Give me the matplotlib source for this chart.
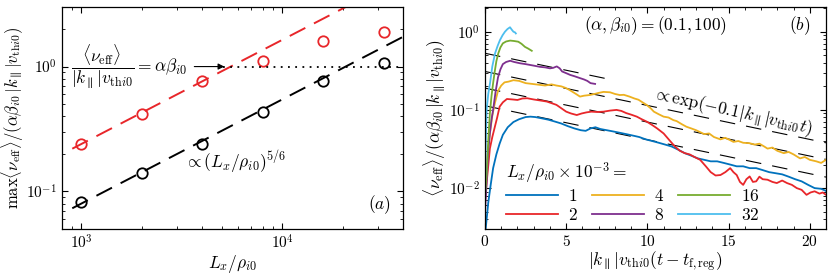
import numpy as np
import matplotlib
matplotlib.use("Agg")
import matplotlib.pyplot as plt

plt.rcParams['mathtext.fontset'] = 'cm'
plt.rcParams['font.family'] = 'serif'
plt.rcParams['font.serif'] = ['cmr10', 'DejaVu Serif']
plt.rcParams['axes.formatter.use_mathtext'] = True
plt.rcParams['axes.unicode_minus'] = False

# ---------------- panel (a) data ----------------
Lx = [1000, 2000, 4000, 8000, 16000, 32000]
max_black = [0.082, 0.140, 0.239, 0.432, 0.77, 1.06]
max_red = [0.240, 0.418, 0.76, 1.11, 1.60, 1.88]
fit_black_amp = 0.08
fit_red_amp = 0.24
fit_exponent = 5.0 / 6.0
fit_x = [900, 40000]
a_xticks = [1e3, 1e4]
a_xticklabels = [r'$10^{3}$', r'$10^{4}$']
a_yticks = [0.1, 1.0]
a_yticklabels = [r'$10^{-1}$', r'$10^{0}$']

# ---------------- panel (b) data ----------------
t_1 = [0, 0.1, 0.2, 0.35, 0.5, 0.7, 0.9, 1.1, 1.4, 1.75, 2.1, 2.5, 2.8, 3.1, 3.5, 3.9, 4.3, 4.7, 5.1, 5.5,
       5.9, 6.2, 6.5, 6.8, 7.1, 7.5, 7.9, 8.3, 8.7, 9.1, 9.5, 9.9, 10.3, 10.7, 11.1, 11.5, 11.9, 12.3, 12.7, 13.1,
       13.5, 13.9, 14.3, 14.7, 15.1, 15.5, 15.9, 16.3, 16.7, 17.1, 17.5, 17.9, 18.3, 18.7, 19.1, 19.5, 19.9, 20.3, 20.7, 21.0]
v_1 = [0.0025, 0.004, 0.0065, 0.011, 0.018, 0.027, 0.037, 0.048, 0.060, 0.070,
       0.076, 0.081, 0.082, 0.081, 0.078, 0.075, 0.071, 0.067, 0.062, 0.058,
       0.055, 0.054, 0.058, 0.060, 0.057, 0.055, 0.053, 0.051, 0.049, 0.047,
       0.045, 0.042, 0.040, 0.038, 0.036, 0.034, 0.031, 0.028, 0.026, 0.024,
       0.023, 0.022, 0.022, 0.021, 0.020, 0.019, 0.019, 0.018, 0.018, 0.017,
       0.016, 0.0155, 0.015, 0.014, 0.013, 0.0122, 0.011, 0.0100, 0.0098, 0.0092]

t_2 = [0, 0.15, 0.3, 0.45, 0.6, 0.75, 0.9, 1.1, 1.35, 1.7, 2.0, 2.3, 2.6, 3.0, 3.4, 3.8, 4.1, 4.4, 4.7, 5.0,
       5.3, 5.65, 5.95, 6.25, 6.55, 6.9, 7.3, 7.7, 8.1, 8.4, 8.7, 9.0, 9.35, 9.65, 9.95, 10.3, 10.6, 11.0, 11.4, 11.7,
       12.0, 12.3, 12.6, 12.9, 13.25, 13.6, 13.9, 14.2, 14.5, 14.8, 15.1, 15.3, 15.5, 15.7, 15.9, 16.1, 16.3, 16.5, 16.7, 16.9,
       17.1, 17.4, 17.7, 17.97, 18.3, 18.6, 18.9, 19.2, 19.5, 19.8, 20.05, 20.3, 20.6, 20.8, 21.0]
v_2 = [0.007, 0.015, 0.032, 0.045, 0.06, 0.08, 0.11, 0.125, 0.138, 0.136,
       0.134, 0.14, 0.141, 0.136, 0.132, 0.128, 0.122, 0.116, 0.105, 0.095,
       0.09, 0.086, 0.09, 0.093, 0.095, 0.094, 0.095, 0.098, 0.100, 0.097,
       0.091, 0.087, 0.082, 0.076, 0.071, 0.064, 0.058, 0.050, 0.040, 0.034,
       0.030, 0.028, 0.027, 0.025, 0.023, 0.019, 0.016, 0.0145, 0.0147, 0.016,
       0.018, 0.016, 0.0147, 0.012, 0.011, 0.013, 0.0141, 0.012, 0.0122, 0.014,
       0.013, 0.0128, 0.012, 0.0116, 0.0125, 0.0116, 0.011, 0.010, 0.0095, 0.0082,
       0.0088, 0.0091, 0.0085, 0.0088, 0.0082]

t_4 = [0, 0.15, 0.3, 0.45, 0.6, 0.8, 1.0, 1.2, 1.45, 1.75, 2.1, 2.5, 2.9, 3.3, 3.7, 4.1, 4.4, 4.7, 5.0, 5.3,
       5.6, 5.85, 6.1, 6.45, 6.75, 7.0, 7.3, 7.7, 8.0, 8.3, 8.55, 8.9, 9.2, 9.45, 9.7, 9.95, 10.2, 10.4, 10.7, 11.0,
       11.3, 11.6, 11.8, 12.1, 12.4, 12.7, 13.0, 13.25, 13.5, 13.8, 14.1, 14.5, 14.8, 15.1, 15.3, 15.6, 15.9, 16.3, 16.6, 16.9,
       17.2, 17.4, 17.7, 18.0, 18.4, 18.7, 19.0, 19.4, 19.7, 20.0, 20.4, 20.7, 21.0]
v_4 = [0.008, 0.025, 0.05, 0.085, 0.12, 0.175, 0.205, 0.225, 0.23, 0.24,
       0.235, 0.22, 0.215, 0.21, 0.205, 0.212, 0.205, 0.2, 0.19, 0.175,
       0.16, 0.148, 0.152, 0.155, 0.16, 0.165, 0.17, 0.168, 0.16, 0.155,
       0.156, 0.148, 0.14, 0.135, 0.125, 0.116, 0.105, 0.095, 0.088, 0.082,
       0.08, 0.074, 0.072, 0.066, 0.061, 0.058, 0.055, 0.052, 0.049, 0.05,
       0.045, 0.042, 0.044, 0.041, 0.039, 0.040, 0.038, 0.0375, 0.036, 0.037,
       0.034, 0.032, 0.033, 0.030, 0.028, 0.029, 0.027, 0.024, 0.025, 0.023,
       0.022, 0.021, 0.023]

t_8 = [0, 0.1, 0.2, 0.3, 0.4, 0.5, 0.65, 0.8, 0.95, 1.1, 1.3, 1.55, 1.8, 2.15, 2.5, 2.8, 3.1, 3.4, 3.7, 4.0,
       4.2, 4.42, 4.6, 4.75, 5.0, 5.25, 5.5, 5.85, 6.1, 6.3, 6.5, 6.78]
v_8 = [0.005, 0.012, 0.03, 0.05, 0.075, 0.1, 0.17, 0.26, 0.33, 0.385,
       0.41, 0.425, 0.41, 0.395, 0.385, 0.375, 0.365, 0.355, 0.35, 0.34,
       0.345, 0.36, 0.34, 0.31, 0.295, 0.28, 0.27, 0.255, 0.245, 0.235,
       0.22, 0.215]

t_16 = [0, 0.1, 0.2, 0.3, 0.4, 0.5, 0.6, 0.7, 0.82, 0.95, 1.1, 1.3, 1.55, 1.8, 2.05, 2.25, 2.46, 2.65, 2.88]
v_16 = [0.008, 0.015, 0.04, 0.09, 0.15, 0.22, 0.31, 0.42, 0.53, 0.63, 0.71, 0.75, 0.77, 0.76, 0.745, 0.7, 0.64, 0.61, 0.57]

t_32 = [0, 0.05, 0.1, 0.2, 0.31, 0.45, 0.62, 0.78, 0.92, 1.08, 1.23, 1.38, 1.54, 1.65, 1.75, 1.85, 1.9]
v_32 = [0.01, 0.04, 0.1, 0.16, 0.22, 0.36, 0.53, 0.66, 0.78, 0.9, 1.0, 1.08, 1.14, 1.06, 1.0, 0.98, 0.95]

series_labels = ['1', '2', '4', '8', '16', '32']
series_t = [t_1, t_2, t_4, t_8, t_16, t_32]
series_v = [v_1, v_2, v_4, v_8, v_16, v_32]
series_colors = ['#0072BD', '#E8262A', '#EDB120', '#7E2F8E', '#77AC30', '#4DBEEE']

decay_rate = 0.1
guide_amps = [0.53, 0.31, 0.19, 0.113]
guide_tmax = [7.4, 21.0, 21.0, 21.0]

b_xticks = [0, 5, 10, 15, 20]
b_xticklabels = [r'$0$', r'$5$', r'$10$', r'$15$', r'$20$']
b_yticks = [0.01, 0.1, 1.0]
b_yticklabels = [r'$10^{-2}$', r'$10^{-1}$', r'$10^{0}$']

red = '#E8262A'
fs_tick = 11
fs_lab = 12.5
fs_txt = 12.5

fig = plt.figure(figsize=(8.3, 2.76), dpi=100)
axA = fig.add_axes([62 / 830, 47 / 276, 341 / 830, 222 / 276])
axB = fig.add_axes([485 / 830, 47 / 276, 341 / 830, 222 / 276])

# ---------------- panel (a) ----------------
fx = np.array(fit_x, dtype=float)
axA.plot(fx, fit_black_amp * (fx / 1000.0) ** fit_exponent, color='k', lw=1.4, dashes=(9, 5))
axA.plot(fx, fit_red_amp * (fx / 1000.0) ** fit_exponent, color=red, lw=1.4, dashes=(9, 5))
axA.plot(Lx, max_black, 'o', mfc='none', mec='k', mew=1.3, ms=7.5)
axA.plot(Lx, max_red, 'o', mfc='none', mec=red, mew=1.3, ms=7.5)
axA.plot([5100, 40000], [1, 1], color='k', lw=1.3, ls=(0, (1, 3)))
axA.annotate('', xy=(5150, 1), xytext=(3650, 1),
             arrowprops=dict(arrowstyle='-|>', color='k', lw=0.8, mutation_scale=9,
                             shrinkA=0, shrinkB=0))
axA.text(3350, 1.0, r'$\dfrac{\langle\nu_{\rm eff}\rangle}{|k_{\parallel}|v_{{\rm th}i0}} = \alpha\beta_{i0}$',
         ha='right', va='center', fontsize=fs_txt)
axA.text(3250, 0.17, r'$\propto(L_x/\rho_{i0})^{5/6}$', ha='left', va='center', fontsize=fs_txt)
axA.text(0.965, 0.06, r'$(a)$', transform=axA.transAxes, ha='right', va='bottom', fontsize=fs_txt)

axA.set_xscale('log')
axA.set_yscale('log')
axA.set_xlim(800, 40000)
axA.set_ylim(0.05, 3.0)
axA.set_xticks(a_xticks)
axA.set_xticklabels(a_xticklabels)
axA.set_yticks(a_yticks)
axA.set_yticklabels(a_yticklabels)
axA.set_xlabel(r'$L_x/\rho_{i0}$', fontsize=fs_lab, labelpad=1)
axA.set_ylabel(r'$\max\langle\nu_{\rm eff}\rangle/(\alpha\beta_{i0}\,|k_{\parallel}|v_{{\rm th}i0})$',
               fontsize=12)
axA.yaxis.set_label_coords(-0.105, 0.5)

# ---------------- panel (b) ----------------
for A, tm in zip(guide_amps, guide_tmax):
    tt = np.linspace(0, tm, 50)
    axB.plot(tt, A * np.exp(-decay_rate * tt), color='k', lw=0.8, dashes=(14, 10))

handles = []
for t, v, c, lab in zip(series_t, series_v, series_colors, series_labels):
    h, = axB.plot(t, v, color=c, lw=1.3, label=r'$%s$' % lab)
    handles.append(h)

axB.text(0.5, 0.915, r'$(\alpha,\beta_{i0})=(0.1,100)$', transform=axB.transAxes,
         ha='center', va='center', fontsize=fs_txt)
axB.text(0.955, 0.915, r'$(b)$', transform=axB.transAxes, ha='right', va='center', fontsize=fs_txt)
axB.text(15.2, 0.096, r'$\propto\exp(-0.1|k_{\parallel}|v_{{\rm th}i0}t)$', rotation=-12.5,
         ha='center', va='center', fontsize=fs_txt, rotation_mode='anchor')

leg = axB.legend(handles=handles, ncol=3, loc='lower left', bbox_to_anchor=(0.03, -0.02),
                 frameon=False, fontsize=fs_txt, handlelength=3.0, handletextpad=0.6,
                 columnspacing=0.8, labelspacing=0.15, borderaxespad=0.2,
                 title=r'$L_x/\rho_{i0}\times10^{-3}=$', title_fontsize=fs_txt, alignment='left')

axB.set_yscale('log')
axB.set_xlim(0, 21)
axB.set_ylim(0.003, 2.07)
axB.set_xticks(b_xticks)
axB.set_xticklabels(b_xticklabels)
axB.set_xticks(np.arange(0, 22, 1), minor=True)
axB.set_yticks(b_yticks)
axB.set_yticklabels(b_yticklabels)
axB.set_xlabel(r'$|k_{\parallel}|v_{{\rm th}i0}(t-t_{\rm f,reg})$', fontsize=fs_lab, labelpad=1)
axB.set_ylabel(r'$\langle\nu_{\rm eff}\rangle/(\alpha\beta_{i0}\,|k_{\parallel}|v_{{\rm th}i0})$',
               fontsize=fs_lab, labelpad=1)

for ax in (axA, axB):
    ax.tick_params(which='both', direction='in', top=True, right=True, labelsize=fs_tick)
    ax.tick_params(which='major', length=4.5, width=0.8)
    ax.tick_params(which='minor', length=2.5, width=0.6)
    for s in ax.spines.values():
        s.set_linewidth(0.9)
axA.tick_params(axis='y', which='minor', labelleft=False)
axA.tick_params(axis='x', which='minor', labelbottom=False)
axB.tick_params(axis='y', which='minor', labelleft=False)

fig.savefig('out.png', dpi=100)
